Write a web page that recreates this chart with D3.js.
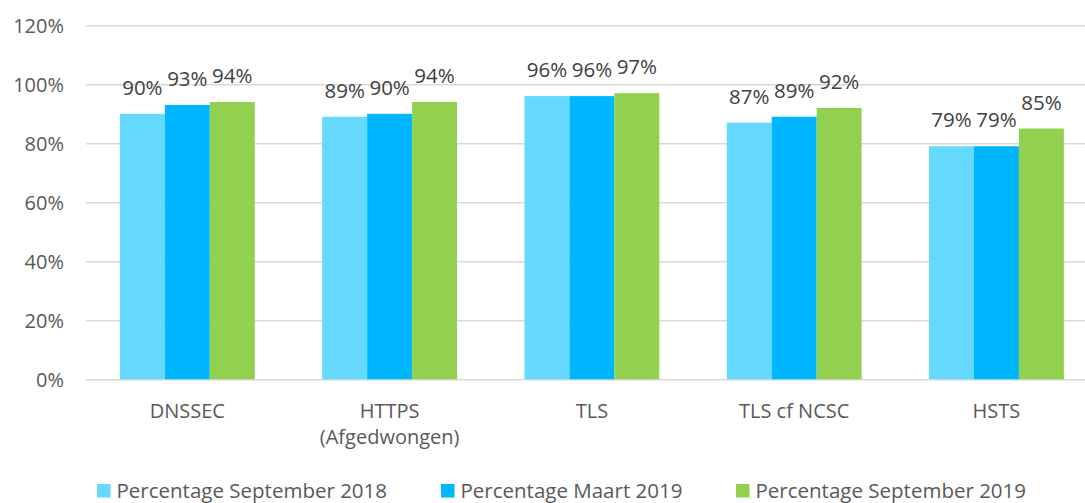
<!DOCTYPE html>
<html>
<head>
<meta charset="utf-8">
<script src="https://cdn.jsdelivr.net/npm/d3@7"></script>
<style>
  body { margin: 0; background: #fff; }
  svg { display: block; font-family: "Open Sans", sans-serif; }
</style>
</head>
<body>
<svg id="chart" width="1085" height="503"></svg>
<script>
// chart data
const categories = ["DNSSEC", "HTTPS\n(Afgedwongen)", "TLS", "TLS cf NCSC", "HSTS"];
const seriesNames = ["Percentage September 2018", "Percentage Maart 2019", "Percentage September 2019"];
const sep2018 = [90, 89, 96, 87, 79];
const maart2019 = [93, 90, 96, 89, 79];
const sep2019 = [94, 94, 97, 92, 85];
const yTicks = [0, 20, 40, 60, 80, 100, 120];

const colors = ["#65dafe", "#00b6fe", "#92d050"];
const allSeries = [sep2018, maart2019, sep2019];

const svg = d3.select("#chart");
const W = 1085;

const y = d3.scaleLinear().domain([0, 120]).range([379.3, 25.3]);

const x0 = d3.scaleBand()
  .domain(categories)
  .range([86.2, 1097.6])
  .paddingInner(1 / 3)
  .paddingOuter(1 / 6);

const x1 = d3.scaleBand()
  .domain(seriesNames)
  .range([0, x0.bandwidth()]);

// gridlines + y labels
const yAxis = svg.append("g")
  .attr("transform", "translate(86,0)")
  .call(d3.axisLeft(y).tickValues(yTicks).tickSize(-(W - 86)).tickFormat(d => d + "%"));
yAxis.select(".domain").remove();
yAxis.selectAll(".tick line").attr("stroke", "#d9d9d9").attr("stroke-width", 1.5);
yAxis.selectAll(".tick text")
  .attr("x", -22)
  .attr("dy", "0.35em")
  .style("font-family", "'Open Sans', sans-serif")
  .style("font-size", "20px")
  .attr("fill", "#595959");

// bars
const groups = svg.append("g")
  .selectAll("g")
  .data(categories)
  .join("g")
  .attr("transform", d => `translate(${x0(d)},0)`);

groups.selectAll("rect")
  .data((d, i) => seriesNames.map((s, j) => ({ s, j, v: allSeries[j][i] })))
  .join("rect")
  .attr("x", d => x1(d.s))
  .attr("width", x1.bandwidth())
  .attr("y", d => y(d.v))
  .attr("height", d => y(0) - y(d.v))
  .attr("fill", d => colors[d.j]);

// value labels
groups.selectAll("text.val")
  .data((d, i) => seriesNames.map((s, j) => ({ s, j, v: allSeries[j][i] })))
  .join("text")
  .attr("class", "val")
  .attr("x", d => x1(d.s) + x1.bandwidth() / 2)
  .attr("y", d => y(d.v) - 19)
  .attr("text-anchor", "middle")
  .style("font-size", "20.5px")
  .attr("fill", "#404040")
  .text(d => d.v + "%");

// category labels
const cat = svg.append("g")
  .selectAll("text")
  .data(categories)
  .join("text")
  .attr("x", d => x0(d) + x0.bandwidth() / 2)
  .attr("y", 418)
  .attr("text-anchor", "middle")
  .style("font-size", "20px")
  .attr("fill", "#595959");
cat.selectAll("tspan")
  .data(d => d.split("\n"))
  .join("tspan")
  .attr("x", function () { return d3.select(this.parentNode).attr("x"); })
  .attr("dy", (d, i) => i === 0 ? 0 : 25.5)
  .text(d => d);

// legend
const legendX = [97, 441, 736];
const legend = svg.append("g")
  .selectAll("g")
  .data(seriesNames)
  .join("g")
  .attr("transform", (d, i) => `translate(${legendX[i]},0)`);
legend.append("rect")
  .attr("y", 484)
  .attr("width", 13.5)
  .attr("height", 13.5)
  .attr("fill", (d, i) => colors[i]);
legend.append("text")
  .attr("x", 19.5)
  .attr("y", 497.5)
  .style("font-size", "20.5px")
  .attr("fill", "#595959")
  .text(d => d);
</script>
</body>
</html>
